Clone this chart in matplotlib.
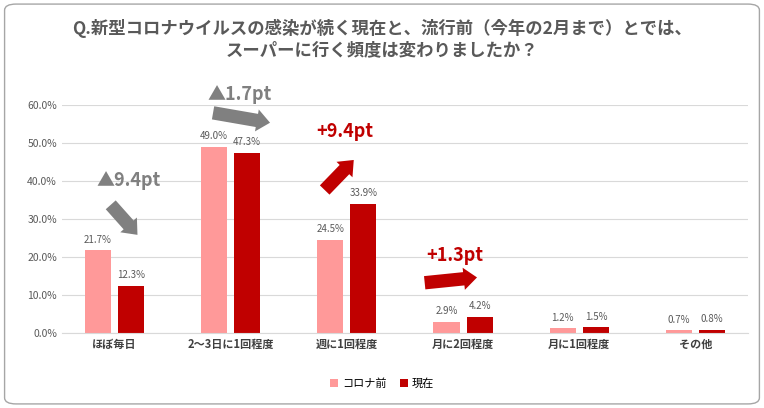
import matplotlib
matplotlib.use("Agg")
import matplotlib.pyplot as plt
from matplotlib.patches import FancyBboxPatch
import numpy as np

plt.rcParams['font.family'] = ['Noto Sans CJK JP']

categories = ["ほぼ毎日", "2〜3日に1回程度", "週に1回程度", "月に2回程度", "月に1回程度", "その他"]
before = [21.7, 49.0, 24.5, 2.9, 1.2, 0.7]
now = [12.3, 47.3, 33.9, 4.2, 1.5, 0.8]
series_names = ["コロナ前", "現在"]
yticks = [0, 10, 20, 30, 40, 50, 60]
changes = ["▲9.4pt", "▲1.7pt", "+9.4pt", "+1.3pt"]

fig = plt.figure(figsize=(7.64, 4.08), dpi=100)
fig.patches.append(FancyBboxPatch((0.006, 0.01), 0.988, 0.98, boxstyle="round,pad=0,rounding_size=0.015",
                                  transform=fig.transFigure, fill=False, ec="#A6A6A6", lw=1))
ax = fig.add_axes([0.081, 0.184, 0.898, 0.559])
x = np.arange(len(categories))
w = 0.225
ax.bar(x - w/2 - 0.03, before, w, color="#FF9999", label=series_names[0], zorder=2)
ax.bar(x + w/2 + 0.03, now, w, color="#C00000", label=series_names[1], zorder=2)
for xi, b, n in zip(x, before, now):
    ax.text(xi - w/2 - 0.03, b + 1.5, f"{b:.1f}%", ha="center", va="bottom", fontsize=7, color="#595959")
    ax.text(xi + w/2 + 0.03, n + 1.5, f"{n:.1f}%", ha="center", va="bottom", fontsize=7, color="#595959")
ax.set_xlim(-0.45, 5.45)
ax.set_ylim(0, 60)
ax.set_yticks(yticks)
ax.set_yticklabels([f"{t:.1f}%" for t in yticks], fontsize=7.5, color="#595959")
ax.set_xticks(x)
ax.set_xticklabels(categories, fontsize=8, color="#404040", fontweight="bold")
ax.grid(axis="y", color="#D9D9D9", lw=0.8, zorder=0)
for s in ["top", "right", "left"]:
    ax.spines[s].set_visible(False)
ax.spines["bottom"].set_color("#D9D9D9")
ax.tick_params(length=0)

gray = "#808080"; red = "#C00000"
arrows = [((-0.03, 33.7), (0.20, 25.8), gray, (0.12, 40.0)),
          ((0.85, 57.9), (1.34, 55.3), gray, (1.08, 62.6)),
          ((1.81, 37.6), (2.06, 45.5), red, (1.98, 52.9)),
          ((2.67, 13.2), (3.12, 14.6), red, (2.93, 20.3))]
for (p0, p1, c, tp), lab in zip(arrows, changes):
    ax.annotate("", xy=p1, xytext=p0, annotation_clip=False,
                arrowprops=dict(arrowstyle="simple,head_length=0.6,head_width=1.0,tail_width=0.6",
                                color=c, lw=0, shrinkA=0, shrinkB=0, mutation_scale=16))
    ax.text(tp[0], tp[1], lab, ha="center", va="center", fontsize=13, fontweight="bold", color=c, clip_on=False)

fig.text(0.5, 0.905, "Q.新型コロナウイルスの感染が続く現在と、流行前（今年の2月まで）とでは、\nスーパーに行く頻度は変わりましたか？",
         ha="center", va="center", fontsize=12.5, fontweight="bold", color="#595959", linespacing=1.2)
fig.legend(loc="center", bbox_to_anchor=(0.5, 0.06), ncol=2, frameon=False, fontsize=8,
           handlelength=0.7, handleheight=0.7, columnspacing=1.2, handletextpad=0.4)
fig.savefig("out.png", dpi=100)
